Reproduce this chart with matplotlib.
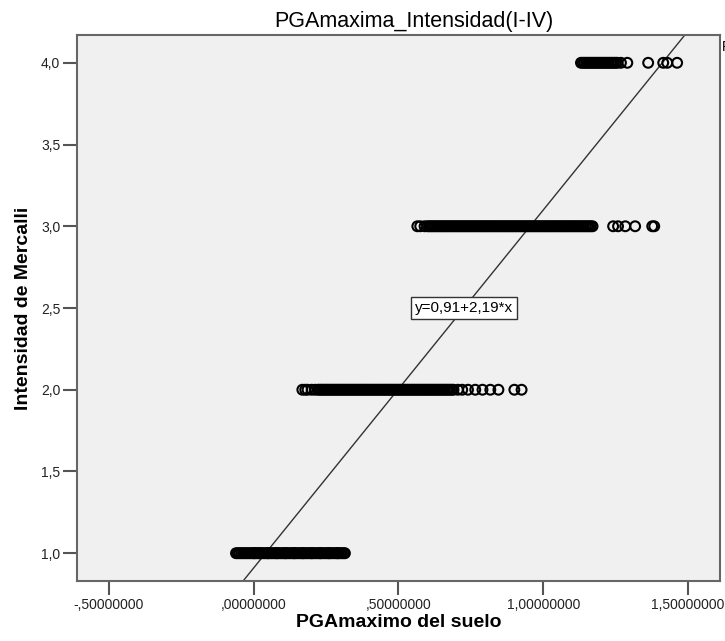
import matplotlib
matplotlib.use("Agg")
import matplotlib.pyplot as plt

plt.rcParams['font.family'] = ['Liberation Sans', 'DejaVu Sans']

# PGA values (x) for each Mercalli intensity level
pga_i1 = [-0.061, -0.055, -0.049, -0.043, -0.037, -0.031, -0.025, -0.019, -0.013, -0.007,
          -0.001, 0.002, 0.005, 0.011, 0.017, 0.020, 0.023, 0.029, 0.035, 0.041,
          0.047, 0.050, 0.053, 0.059, 0.065, 0.071, 0.077, 0.080, 0.083, 0.089,
          0.095, 0.101, 0.107, 0.110, 0.113, 0.119, 0.125, 0.131, 0.137, 0.140,
          0.143, 0.149, 0.155, 0.161, 0.167, 0.170, 0.173, 0.179, 0.185, 0.191,
          0.197, 0.200, 0.203, 0.209, 0.215, 0.221, 0.227, 0.230, 0.233, 0.239,
          0.245, 0.251, 0.257, 0.260, 0.263, 0.269, 0.275, 0.281, 0.287, 0.290,
          0.293, 0.299, 0.305, 0.311, 0.315]
pga_i2 = [0.168, 0.178, 0.186, 0.200, 0.212, 0.222, 0.228, 0.234, 0.240, 0.246,
          0.252, 0.258, 0.264, 0.270, 0.276, 0.282, 0.288, 0.294, 0.300, 0.306,
          0.312, 0.318, 0.324, 0.330, 0.336, 0.342, 0.348, 0.354, 0.360, 0.366,
          0.372, 0.378, 0.384, 0.390, 0.396, 0.402, 0.408, 0.414, 0.420, 0.426,
          0.432, 0.438, 0.444, 0.450, 0.456, 0.462, 0.468, 0.474, 0.480, 0.486,
          0.492, 0.498, 0.504, 0.510, 0.516, 0.522, 0.528, 0.534, 0.540, 0.546,
          0.552, 0.558, 0.564, 0.570, 0.576, 0.582, 0.588, 0.594, 0.600, 0.606,
          0.612, 0.618, 0.624, 0.630, 0.636, 0.642, 0.648, 0.654, 0.660, 0.666,
          0.672, 0.678, 0.684, 0.690, 0.705, 0.720, 0.740, 0.765, 0.790, 0.817,
          0.845, 0.900, 0.925]
pga_i3 = [0.565, 0.575, 0.590, 0.600, 0.606, 0.612, 0.618, 0.624, 0.630, 0.636,
          0.642, 0.648, 0.654, 0.660, 0.666, 0.672, 0.678, 0.684, 0.690, 0.696,
          0.702, 0.708, 0.714, 0.720, 0.726, 0.732, 0.738, 0.744, 0.750, 0.756,
          0.762, 0.768, 0.774, 0.780, 0.786, 0.792, 0.798, 0.804, 0.810, 0.816,
          0.822, 0.828, 0.834, 0.840, 0.846, 0.852, 0.858, 0.864, 0.870, 0.876,
          0.882, 0.888, 0.894, 0.900, 0.906, 0.912, 0.918, 0.924, 0.930, 0.936,
          0.942, 0.948, 0.954, 0.960, 0.966, 0.972, 0.978, 0.984, 0.990, 0.996,
          1.002, 1.008, 1.014, 1.020, 1.026, 1.032, 1.038, 1.044, 1.050, 1.056,
          1.062, 1.068, 1.074, 1.080, 1.086, 1.092, 1.098, 1.104, 1.110, 1.116,
          1.122, 1.128, 1.134, 1.140, 1.146, 1.152, 1.158, 1.164, 1.170, 1.241,
          1.258, 1.283, 1.317, 1.376, 1.383]
pga_i4 = [1.130, 1.136, 1.142, 1.148, 1.154, 1.160, 1.166, 1.172, 1.178, 1.184,
          1.190, 1.196, 1.202, 1.208, 1.214, 1.220, 1.226, 1.232, 1.238, 1.244,
          1.250, 1.256, 1.268, 1.290, 1.362, 1.414, 1.428, 1.462]
niveles = [1.0, 2.0, 3.0, 4.0]

# recta de ajuste
intercepto = 0.91
pendiente = 2.19

x_ticks = [-0.5, 0.0, 0.5, 1.0, 1.5]
x_ticklabels = ['-,50000000', ',00000000', ',50000000', '1,00000000', '1,50000000']
y_ticks = [1.0, 1.5, 2.0, 2.5, 3.0, 3.5, 4.0]
y_ticklabels = ['1,0', '1,5', '2,0', '2,5', '3,0', '3,5', '4,0']

fig = plt.figure(figsize=(7.25, 6.41), dpi=100)
ax = fig.add_axes([0.1062, 0.0936, 0.8869, 0.8518])
ax.set_facecolor('#f0f0f0')

for xs, nivel in zip([pga_i1, pga_i2, pga_i3, pga_i4], niveles):
    ax.scatter(xs, [nivel] * len(xs), s=50, facecolors='none', edgecolors='black',
               linewidths=1.5, zorder=3)

xmin, xmax = -0.61, 1.61
ymin, ymax = 0.83, 4.17
ax.plot([xmin, xmax], [intercepto + pendiente * xmin, intercepto + pendiente * xmax],
        color='#333333', linewidth=1.0, zorder=2)
ax.set_xlim(xmin, xmax)
ax.set_ylim(ymin, ymax)

ax.text(0.726, 2.5, 'y=0,91+2,19*x', fontsize=11, ha='center', va='center', zorder=4,
        bbox=dict(boxstyle='square,pad=0.25', facecolor='white', edgecolor='#333333', linewidth=1.0))

ax.text(1.003, 0.978, 'R² Lineal = 0,745', transform=ax.transAxes, fontsize=10,
        ha='left', va='center', clip_on=False)

ax.set_xticks(x_ticks)
ax.set_xticklabels(x_ticklabels)
ax.set_yticks(y_ticks)
ax.set_yticklabels(y_ticklabels)
ax.tick_params(axis='both', direction='out', length=10, width=1.5, color='#555555',
               labelsize=10, labelcolor='#222222', pad=2)

for s in ax.spines.values():
    s.set_color('#666666')
    s.set_linewidth(1.5)

fig.text(0.571, 0.967, 'PGAmaxima_Intensidad(I-IV)', fontsize=15.5, ha='center', va='center')
ax.set_xlabel('PGAmaximo del suelo', fontsize=14, fontweight='bold')
ax.xaxis.set_label_coords(0.5, -0.06)
ax.set_ylabel('Intensidad de Mercalli', fontsize=14, fontweight='bold')
ax.yaxis.set_label_coords(-0.07, 0.5)

fig.savefig('out.png', dpi=100)
